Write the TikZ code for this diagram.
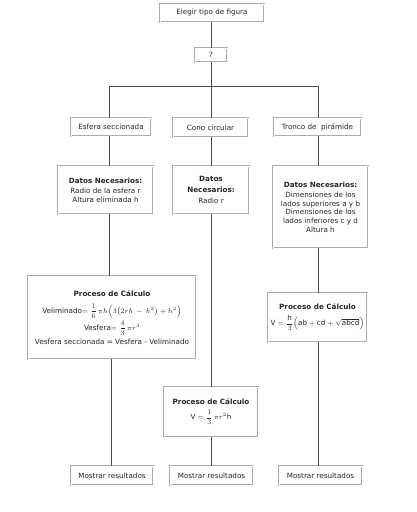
\documentclass[tikz,border=0pt]{standalone}
\usepackage{amsmath}
\usepackage{fontspec}
\setmainfont{DejaVu Sans}
\begin{document}
\begin{tikzpicture}[x=1pt,y=-1pt,
  box/.style={draw=gray!65, line width=0.75pt, double=white, double distance=1pt, fill=white,
    inner sep=1pt, align=center, font=\fontsize{7.2}{8.6}\selectfont, text=black!85},
  conn/.style={draw=black!70, line width=0.8pt}]
\useasboundingbox (0,0) rectangle (417,512);
% top
\node[box, minimum width=104, minimum height=18] (elegir) at (212,13) {Elegir tipo de figura};
\node[box, minimum width=32, minimum height=14] (q) at (211,55) {?};
\coordinate (bus) at (211,86);
\coordinate (busL) at (109,86);
\coordinate (busR) at (318,86);
\coordinate (colL) at (109,0);
\coordinate (colLb) at (111,0);
\coordinate (colM) at (211,0);
\coordinate (colR) at (318,0);
% level 2
\node[box, minimum width=80, minimum height=18] (esfera) at (111,127) {Esfera seccionada};
\node[box, minimum width=75, minimum height=19] (cono) at (210.5,127.5) {Cono circular};
\node[box, minimum width=87, minimum height=18] (tronco) at (317.5,127) {Tronco de~ pirámide};
% datos
\node[box, minimum width=95, minimum height=48] (datosL) at (105.5,190)
  {\textbf{Datos Necesarios:}\\[2pt]Radio de la esfera r\\Altura eliminada h};
\node[box, minimum width=76, minimum height=48] (datosM) at (211,190)
  {\textbf{Datos}\\[2pt]\textbf{Necesarios:}\\[2pt]Radio r};
\node[box, minimum width=95, minimum height=82] (datosR) at (320.5,207)
  {\textbf{Datos Necesarios:}\\[2pt]Dimensiones de los\\lados superiores a y b\\Dimensiones de los\\lados inferiores c y d\\Altura h};
% proceso
\node[box, minimum width=168, minimum height=83] (procL) at (112,317.5)
  {\textbf{Proceso de Cálculo}\\[6pt]
   Veliminado$=\dfrac{1}{6}\,\pi h\Big(3\big(2rh\,-\,h^{2}\big)+h^{2}\Big)$\\[1pt]
   Vesfera$=\dfrac{4}{3}\,\pi r^{3}$\\[2pt]
   Vesfera seccionada = Vesfera - Veliminado};
\node[box, minimum width=99, minimum height=49] (procR) at (317.5,317.5)
  {\textbf{Proceso de Cálculo}\\[4pt]
   V $=\dfrac{\text{h}}{3}\Big(\text{ab}+\text{cd}+\sqrt{\text{abcd}}\Big)$};
\node[box, minimum width=94, minimum height=50] (procM) at (211,412)
  {\textbf{Proceso de Cálculo}\\[4pt]
   V $=\dfrac{1}{3}\,\pi r^{2}\text{h}$};
% mostrar
\node[box, minimum width=82, minimum height=19] (mostL) at (112,475.5) {Mostrar resultados};
\node[box, minimum width=83, minimum height=19] (mostM) at (211.5,475.5) {Mostrar resultados};
\node[box, minimum width=83, minimum height=19] (mostR) at (320.5,475.5) {Mostrar resultados};
% connectors
\draw[conn] (elegir.south -| colM) -- (q.north -| colM);
\draw[conn] (q.south -| colM) -- (bus);
\draw[conn] (busL) -- (busR);
\draw[conn] (busL) -- (esfera.north -| colL);
\draw[conn] (bus) -- (cono.north -| colM);
\draw[conn] (busR) -- (tronco.north -| colR);
\draw[conn] (esfera.south -| colL) -- (datosL.north -| colL);
\draw[conn] (cono.south -| colM) -- (datosM.north -| colM);
\draw[conn] (tronco.south -| colR) -- (datosR.north -| colR);
\draw[conn] (datosL.south -| colL) -- (procL.north -| colL);
\draw[conn] (datosM.south -| colM) -- (procM.north -| colM);
\draw[conn] (datosR.south -| colR) -- (procR.north -| colR);
\draw[conn] (procL.south -| colLb) -- (mostL.north -| colLb);
\draw[conn] (procM.south -| colM) -- (mostM.north -| colM);
\draw[conn] (procR.south -| colR) -- (mostR.north -| colR);
\end{tikzpicture}
\end{document}
